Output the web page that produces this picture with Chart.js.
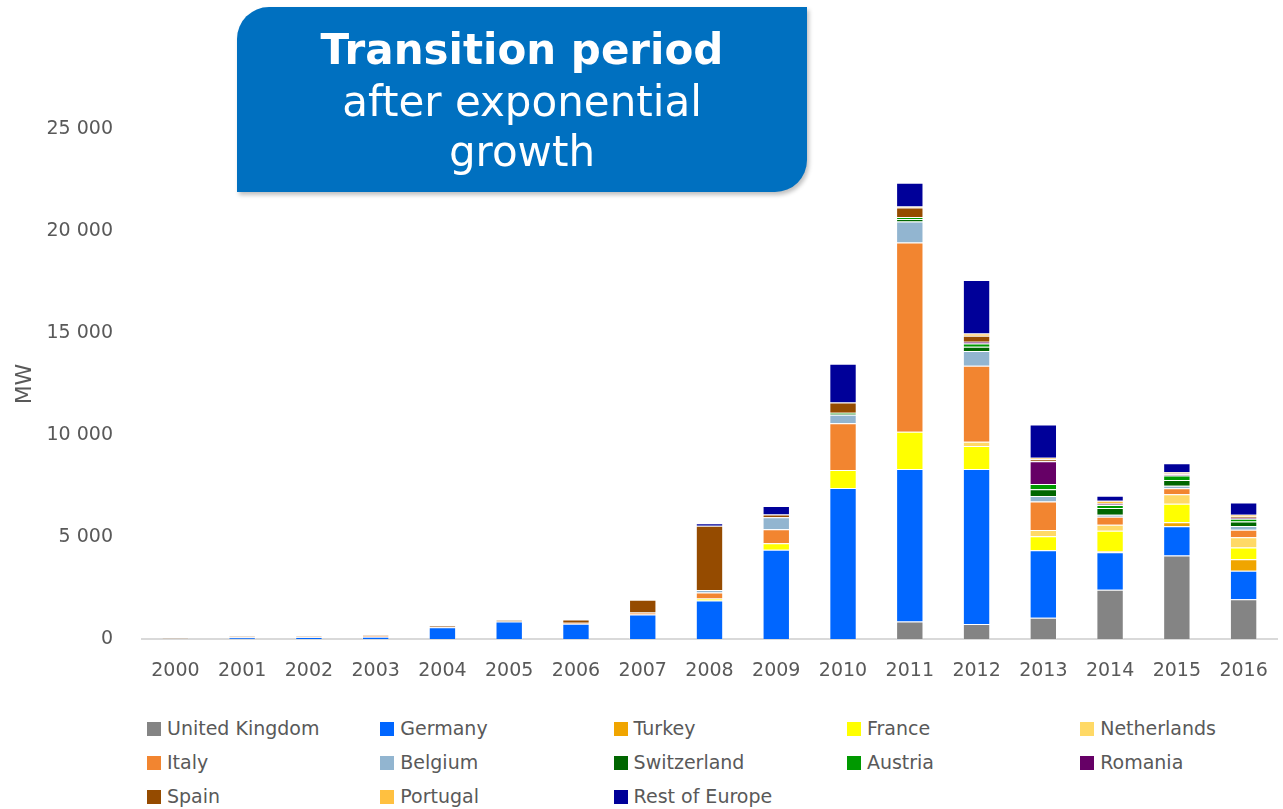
<!DOCTYPE html>
<html>
<head>
<meta charset="utf-8">
<script src="https://cdn.jsdelivr.net/npm/chart.js@4/dist/chart.umd.min.js"></script>
<style>
  body { margin: 0; background: #fff; width: 1283px; height: 809px; overflow: hidden; position: relative; font-family: "DejaVu Sans", Verdana, sans-serif; }
  #wrap { position: absolute; left: 0; top: 0; width: 1283px; height: 700px; }
  .box {
    position: absolute; left: 237px; top: 7px; width: 570px; height: 185px;
    background: #0070c0; border-radius: 32px 0 32px 0;
    box-shadow: 2px 3px 4px rgba(0, 0, 0, 0.25);
    color: #fff; text-align: center;
  }
  .box div { position: absolute; left: 0; width: 100%; line-height: 50px; }
  .legend { position: absolute; left: 0; top: 711px; width: 1283px; }
  .item { position: absolute; height: 34px; line-height: 34px; font-size: 19px; color: #595959; white-space: nowrap; }
  .item span { display: inline-block; width: 14px; height: 14px; margin-right: 6px; vertical-align: -1px; }
</style>
</head>
<body>
<div id="wrap"><canvas id="chart"></canvas></div>
<div class="box">
  <div style="top:18px; font-size:42px; font-weight:bold;">Transition period</div>
  <div style="top:70px; font-size:42px;">after exponential</div>
  <div style="top:120px; font-size:42px;">growth</div>
</div>
<div class="legend" id="legend"></div>
<script>
const years = ["2000", "2001", "2002", "2003", "2004", "2005", "2006", "2007", "2008",
  "2009", "2010", "2011", "2012", "2013", "2014", "2015", "2016"];

// MW installed per year
const unitedKingdom = [0, 0, 0, 0, 0, 0, 0, 0, 0, 0, 0, 860, 735, 1045, 2420, 4090, 1945];
const germany = [10, 80, 90, 110, 570, 860, 750, 1205, 1890, 4380, 7400, 7470, 7600, 3300, 1830, 1440, 1405];
const turkey = [0, 0, 0, 0, 0, 0, 0, 0, 0, 0, 0, 0, 0, 0, 50, 195, 555];
const france = [0, 0, 0, 0, 0, 0, 0, 0, 100, 310, 880, 1830, 1130, 690, 1010, 900, 575];
const netherlands = [0, 0, 0, 0, 0, 0, 0, 0, 0, 0, 0, 0, 210, 310, 290, 475, 505];
const italy = [0, 0, 0, 40, 0, 0, 50, 100, 295, 690, 2300, 9280, 3725, 1400, 390, 295, 375];
const belgium = [0, 0, 0, 0, 0, 0, 0, 0, 115, 590, 410, 1030, 720, 265, 100, 115, 175];
const switzerland = [0, 0, 0, 0, 0, 0, 0, 0, 0, 0, 50, 120, 210, 325, 330, 280, 230];
const austria = [0, 0, 0, 0, 0, 0, 0, 0, 0, 0, 50, 100, 160, 265, 150, 230, 130];
const romania = [0, 0, 0, 0, 0, 0, 0, 0, 0, 0, 0, 0, 80, 1110, 40, 50, 50];
const spain = [30, 50, 50, 30, 80, 80, 150, 620, 3150, 130, 500, 460, 290, 100, 40, 50, 65];
const portugal = [0, 0, 0, 0, 0, 0, 0, 0, 0, 0, 0, 50, 110, 80, 130, 50, 80];
const restOfEurope = [0, 0, 0, 0, 0, 0, 0, 0, 130, 425, 1900, 1160, 2630, 1620, 245, 440, 605];

const yTicks = [0, 5000, 10000, 15000, 20000, 25000];

const series = [
  { label: "United Kingdom", data: unitedKingdom, color: "#848484" },
  { label: "Germany", data: germany, color: "#0066ff" },
  { label: "Turkey", data: turkey, color: "#f0a500" },
  { label: "France", data: france, color: "#ffff00" },
  { label: "Netherlands", data: netherlands, color: "#ffd966" },
  { label: "Italy", data: italy, color: "#f28530" },
  { label: "Belgium", data: belgium, color: "#92b5d0" },
  { label: "Switzerland", data: switzerland, color: "#006600" },
  { label: "Austria", data: austria, color: "#009900" },
  { label: "Romania", data: romania, color: "#660066" },
  { label: "Spain", data: spain, color: "#954b00" },
  { label: "Portugal", data: portugal, color: "#ffc040" },
  { label: "Rest of Europe", data: restOfEurope, color: "#000099" },
];

const grey = "#595959";
const tickFont = { family: "DejaVu Sans", size: 19 };

const ctx = document.getElementById("chart");
new Chart(ctx, {
  type: "bar",
  data: {
    labels: years,
    datasets: series.map((s) => ({
      label: s.label,
      data: s.data,
      backgroundColor: s.color,
      borderColor: "rgba(255,255,255,0.35)",
      borderWidth: 1,
      barPercentage: 0.41,
      categoryPercentage: 1,
    })),
  },
  options: {
    responsive: true,
    maintainAspectRatio: false,
    animation: false,
    layout: { padding: { top: 129, right: 6, left: 0, bottom: 0 } },
    plugins: { legend: { display: false }, tooltip: { enabled: false } },
    scales: {
      x: {
        stacked: true,
        grid: { display: false, drawTicks: false },
        border: { color: "#d9d9d9", width: 2 },
        ticks: { color: grey, font: tickFont, padding: 21 },
        afterFit: (scale) => {
          scale.height = 61;
          scale.paddingLeft = 0;
          scale.paddingRight = 0;
        },
      },
      y: {
        stacked: true,
        min: 0,
        max: 25000,
        afterBuildTicks: (scale) => { scale.ticks = yTicks.map((v) => ({ value: v })); },
        grid: { display: false, drawTicks: false },
        border: { display: false },
        ticks: {
          color: grey,
          font: tickFont,
          padding: 29,
          callback: (v) => v.toString().replace(/\B(?=(\d{3})+(?!\d))/g, " "),
        },
        title: { display: true, text: "MW", color: grey, font: { family: "DejaVu Sans", size: 22 }, padding: 12 },
        afterFit: (scale) => { scale.width = 142; },
      },
    },
  },
});

// legend laid out as a 5 column grid
const legend = document.getElementById("legend");
series.forEach((s, i) => {
  const el = document.createElement("div");
  el.className = "item";
  el.style.left = 147 + (i % 5) * 233.3 + "px";
  el.style.top = Math.floor(i / 5) * 34 + "px";
  el.innerHTML = `<span style="background:${s.color}"></span>${s.label}`;
  legend.appendChild(el);
});
</script>
</body>
</html>
